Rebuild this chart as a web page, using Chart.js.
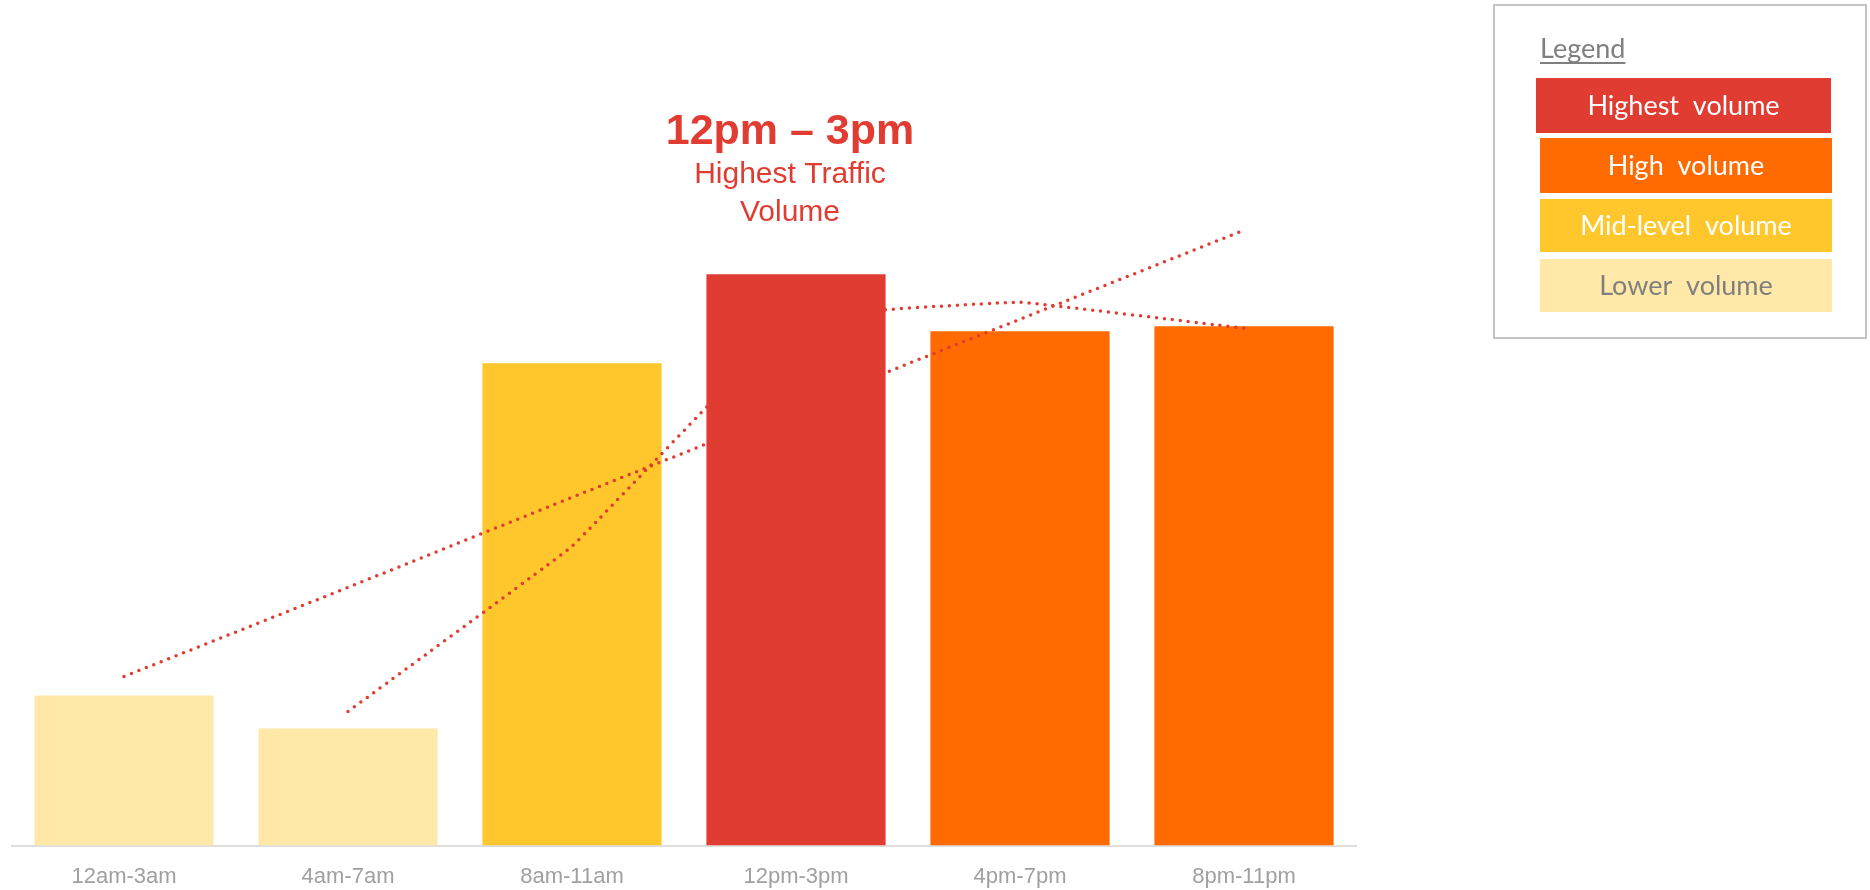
<!DOCTYPE html>
<html>
<head>
<meta charset="utf-8">
<script src="https://cdn.jsdelivr.net/npm/chart.js@4"></script>
<style>
  body { margin: 0; background: #fff; }
  #wrap { width: 1870px; height: 890px; position: relative; }
</style>
</head>
<body>
<div id="wrap"><canvas id="chart"></canvas></div>
<script>
const categories = ['12am-3am', '4am-7am', '8am-11am', '12pm-3pm', '4pm-7pm', '8pm-11pm'];
const volume = [150, 117, 482, 571, 514, 519];
const barColors = ['#FFE8A8', '#FFE8A8', '#FFC72C', '#E03C31', '#FF6B00', '#FF6B00'];
// trend lines (linear + 2 period moving average)
const linearTrend = [169, 258, 348, 437, 526, 615];
const movingAverage = [null, 134, 299, 527, 543, 517];

const legendLabels = ['Highest  volume', 'High  volume', 'Mid-level  volume', 'Lower  volume'];
const legendColors = ['#E03C31', '#FF6B00', '#FFC72C', '#FFE8A8'];
const legendTextColors = ['#ffffff', '#ffffff', '#ffffff', '#7f7f7f'];

const peakIndex = 3;
const dotRed = '#E03C31';

const overlay = {
  id: 'overlay',
  afterDraw(chart) {
    const ctx = chart.ctx;
    const x = chart.scales.x.getPixelForValue(peakIndex) - 6;
    const top = chart.scales.y.getPixelForValue(volume[peakIndex]);
    ctx.save();
    ctx.fillStyle = '#E03C31';
    ctx.textAlign = 'center';
    ctx.textBaseline = 'alphabetic';
    ctx.font = 'bold 43px "Liberation Sans", Arial, sans-serif';
    ctx.fillText('12pm \u2013 3pm', x, top - 130);
    ctx.font = '30px "Liberation Sans", Arial, sans-serif';
    ctx.fillText('Highest Traffic', x, top - 91);
    ctx.fillText('Volume', x, top - 53);

    // legend box
    ctx.strokeStyle = '#c4c4c4';
    ctx.lineWidth = 2;
    ctx.strokeRect(1494, 5, 372, 333);

    ctx.fillStyle = '#7f7f7f';
    ctx.textAlign = 'left';
    ctx.font = '27px Lato, "Open Sans", sans-serif';
    ctx.fillText('Legend', 1540, 58);
    const w = ctx.measureText('Legend').width;
    ctx.fillRect(1540, 62, w, 2);

    const rows = [[1536, 78, 295, 55], [1540, 138, 292, 55], [1540, 199, 292, 53], [1540, 259, 292, 53]];
    ctx.textAlign = 'center';
    ctx.textBaseline = 'middle';
    rows.forEach((r, i) => {
      ctx.fillStyle = legendColors[i];
      ctx.fillRect(r[0], r[1], r[2], r[3]);
      ctx.fillStyle = legendTextColors[i];
      ctx.fillText(legendLabels[i], r[0] + r[2] / 2, r[1] + r[3] / 2 + 1);
    });
    ctx.restore();
  }
};

new Chart(document.getElementById('chart'), {
  data: {
    labels: categories,
    datasets: [
      {
        type: 'line',
        label: 'Linear trend',
        data: linearTrend,
        borderColor: dotRed,
        borderWidth: 3.5,
        borderDash: [0, 8],
        borderCapStyle: 'round',
        pointRadius: 0,
        fill: false,
        order: 1
      },
      {
        type: 'line',
        label: '2 per. moving average',
        data: movingAverage,
        borderColor: dotRed,
        borderWidth: 3.5,
        borderDash: [0, 8],
        borderCapStyle: 'round',
        pointRadius: 0,
        tension: 0.05,
        fill: false,
        order: 1
      },
      {
        type: 'bar',
        label: 'Traffic volume',
        data: volume,
        backgroundColor: barColors,
        categoryPercentage: 0.8,
        barPercentage: 1,
        order: 2
      }
    ]
  },
  options: {
    responsive: true,
    maintainAspectRatio: false,
    animation: false,
    layout: { padding: { left: 12, right: 514, top: 0, bottom: -18 } },
    plugins: {
      legend: { display: false },
      tooltip: { enabled: false }
    },
    scales: {
      x: {
        grid: { display: false, drawTicks: false },
        border: { display: true, color: '#dedede', width: 2 },
        ticks: {
          color: '#a0a0a0',
          padding: 18,
          font: { family: '"Liberation Sans", Arial, sans-serif', size: 22 }
        }
      },
      y: {
        display: false,
        min: 0,
        max: 845
      }
    }
  },
  plugins: [overlay]
});
</script>
</body>
</html>
